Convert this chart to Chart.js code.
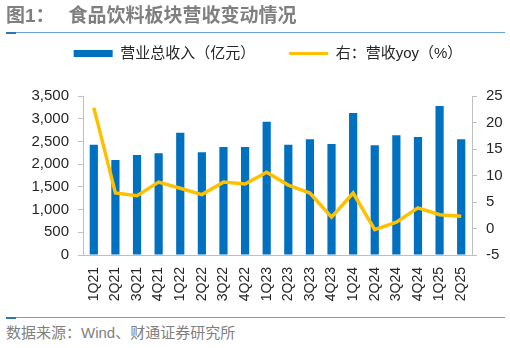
<!DOCTYPE html>
<html>
<head>
<meta charset="utf-8">
<script src="https://cdn.jsdelivr.net/npm/chart.js@4/dist/chart.umd.min.js"></script>
<style>
  html, body { margin: 0; padding: 0; background: #fff; }
  body { width: 510px; height: 348px; position: relative; overflow: hidden; font-family: "Liberation Sans", "Noto Sans CJK SC", sans-serif; }
  #title { position: absolute; left: 6px; top: 4px; font-size: 19px; font-weight: bold; color: #7f7f7f; white-space: nowrap; line-height: 24px; z-index: 2; }
  #title .gap { display: inline-block; width: 14px; }
  .rule { position: absolute; left: 6px; width: 499px; height: 1px; background: #6a9fd8; z-index: 2; }
  .rule .dark { position: absolute; left: 0; top: 0; width: 10px; height: 2px; background: #2e75b6; }
  #source { position: absolute; left: 6px; top: 323px; font-size: 15px; color: #7f7f7f; white-space: nowrap; line-height: 20px; }
  #wrap { position: absolute; left: 0; top: 12px; width: 510px; height: 300px; }
</style>
</head>
<body>
<div id="title">图1：<span class="gap"></span>食品饮料板块营收变动情况</div>
<div class="rule" style="top:32px"><div class="dark"></div></div>
<div id="wrap"><canvas id="c" width="510" height="300"></canvas></div>
<div class="rule" style="top:317px"><div class="dark"></div></div>
<div id="source">数据来源：Wind、财通证券研究所</div>
<script>
const categories = ["1Q21","2Q21","3Q21","4Q21","1Q22","2Q22","3Q22","4Q22","1Q23","2Q23","3Q23","4Q23","1Q24","2Q24","3Q24","4Q24","1Q25","2Q25"];
const revenue = [2428, 2091, 2201, 2238, 2693, 2260, 2377, 2377, 2935, 2428, 2546, 2443, 3126, 2414, 2635, 2597, 3280, 2546];
const yoy = [22.8, 6.7, 6.2, 8.75, 7.6, 6.4, 8.75, 8.4, 10.6, 8.2, 6.7, 2.15, 6.7, -0.2, 1.2, 3.9, 2.6, 2.3];
const barLabel = "营业总收入（亿元）";
const lineLabel = "右：营收yoy（%）";

const BLUE = "#0070c0";
const GOLD = "#ffc000";
const AXIS = "#bfbfbf";
const TXT = "#262626";
const FONT = '"Liberation Sans", "Noto Sans CJK SC", sans-serif';

const legendGap = {
  id: 'legendGap',
  beforeInit(chart) {
    const orig = chart.legend.fit;
    chart.legend.fit = function() { orig.call(this); this.height += 25; };
  }
};

new Chart(document.getElementById('c'), {
  data: {
    labels: categories,
    datasets: [
      { type: 'line', label: lineLabel, data: yoy, yAxisID: 'y1', borderColor: GOLD, backgroundColor: GOLD,
        borderWidth: 3.5, pointRadius: 0, tension: 0, order: 0 },
      { type: 'bar', label: barLabel, data: revenue, yAxisID: 'y', backgroundColor: BLUE,
        categoryPercentage: 1, barPercentage: 0.38, order: 1 }
    ]
  },
  options: {
    responsive: false,
    animation: false,
    layout: { padding: { left: 26, right: 0, top: 0, bottom: 0 } },
    plugins: {
      tooltip: { enabled: false },
      legend: {
        position: 'top',
        labels: {
          font: { family: FONT, size: 15 },
          color: TXT,
          padding: 34,
          boxWidth: 39,
          boxHeight: 7,
          usePointStyle: true,
          pointStyleWidth: 39,
          generateLabels() {
            return [
              { text: barLabel, fillStyle: BLUE, strokeStyle: BLUE, lineWidth: 0, pointStyle: 'rect', datasetIndex: 1, fontColor: TXT },
              { text: lineLabel, fillStyle: GOLD, strokeStyle: GOLD, lineWidth: 3, pointStyle: 'line', datasetIndex: 0, fontColor: TXT }
            ];
          }
        }
      }
    },
    scales: {
      x: {
        offset: true,
        grid: { display: false, drawTicks: false },
        border: { color: AXIS, width: 1 },
        ticks: { font: { family: FONT, size: 14 }, color: TXT, minRotation: 90, maxRotation: 90, padding: 12, autoSkip: false },
        afterFit(s) { s.height = 57; }
      },
      y: {
        position: 'left',
        min: 0, max: 3500,
        grid: { display: true, drawOnChartArea: false, drawTicks: true, tickLength: 5, color: AXIS },
        border: { color: AXIS, width: 1 },
        ticks: { stepSize: 500, font: { family: FONT, size: 15 }, color: TXT, padding: 9 },
        afterFit(s) { s.width = 57; }
      },
      y1: {
        position: 'right',
        min: -5, max: 25,
        grid: { display: true, drawOnChartArea: false, drawTicks: true, tickLength: 5, color: AXIS },
        border: { color: AXIS, width: 1 },
        ticks: { stepSize: 5, font: { family: FONT, size: 15 }, color: TXT, padding: 9 },
        afterFit(s) { s.width = 38; }
      }
    }
  },
  plugins: [legendGap]
});
</script>
</body>
</html>
